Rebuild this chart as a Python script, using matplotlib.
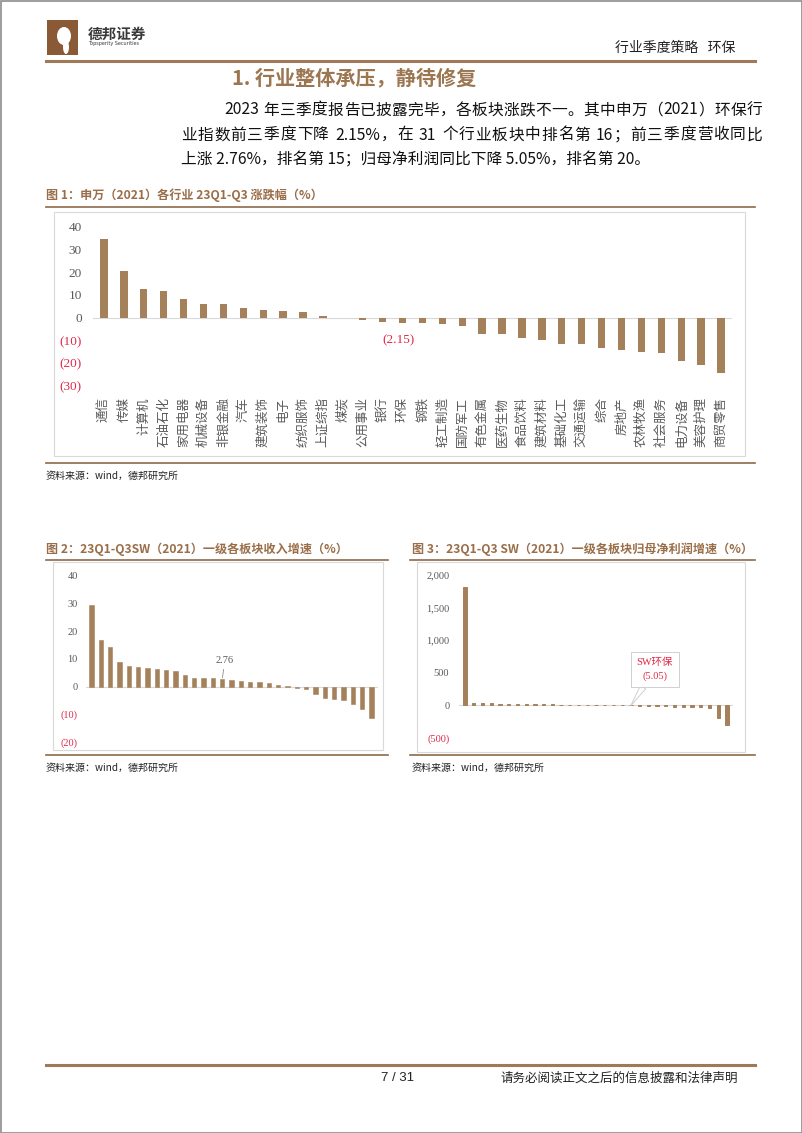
import re
import matplotlib
matplotlib.use("Agg")
import matplotlib.pyplot as plt
from matplotlib.lines import Line2D
from matplotlib.patches import Rectangle, Ellipse

plt.rcParams['font.family'] = ['Noto Sans CJK SC', 'DejaVu Sans']
SERIF = ['Liberation Serif', 'Noto Sans CJK SC']

# 图1 各行业涨跌幅（%）
industries = ["通信", "传媒", "计算机", "石油石化", "家用电器", "机械设备", "非银金融", "汽车",
              "建筑装饰", "电子", "纺织服饰", "上证综指", "煤炭", "公用事业", "银行", "环保",
              "钢铁", "轻工制造", "国防军工", "有色金属", "医药生物", "食品饮料", "建筑材料",
              "基础化工", "交通运输", "综合", "房地产", "农林牧渔", "社会服务", "电力设备",
              "美容护理", "商贸零售"]
change = [34.6, 20.5, 12.6, 11.7, 8.2, 6.2, 5.9, 4.2, 3.2, 2.9, 2.5, 0.7, 0.0, -1.2, -1.7,
          -2.15, -2.4, -2.6, -3.6, -7.0, -7.3, -8.9, -9.8, -11.4, -11.4, -13.2, -14.2,
          -14.9, -15.5, -18.9, -20.8, -24.5]
change_ticks = [-30, -20, -10, 0, 10, 20, 30, 40]

# 图2 收入增速（%），环保排名第15
revenue = [29.4, 16.7, 14.5, 8.9, 7.4, 7.1, 6.9, 6.3, 6.0, 5.8, 4.4, 3.1, 3.1, 3.1, 2.76,
           2.6, 2.1, 1.8, 1.6, 1.4, 0.8, 0.3, -0.4, -0.9, -2.6, -4.2, -4.5, -4.6, -6.3,
           -8.0, -11.4]
revenue_ticks = [-20, -10, 0, 10, 20, 30, 40]

# 图3 归母净利润增速（%），环保排名第20
profit = [1809, 40, 38, 32, 24, 21, 19, 17, 15, 13, 11, 9, 8, 6, 5, 3, 2, -1, -3, -5.05,
          -12, -15, -18, -20, -23, -26, -29, -32, -50, -190, -300]
profit_ticks = [-500, 0, 500, 1000, 1500, 2000]

W, H = 802, 1133
BAR = "#A4815A"
BROWN = "#A07A58"
CAP = "#9A6E48"
RED = "#E0294A"
GRAY = "#595959"

fig = plt.figure(figsize=(W / 100, H / 100), dpi=100)
renderer = fig.canvas.get_renderer()


def fx(x):
    return x / W


def fy(y):
    return 1 - y / H


def hline(x0, x1, y, color=BROWN, lw=1.8):
    fig.add_artist(Line2D([fx(x0), fx(x1)], [fy(y), fy(y)], transform=fig.transFigure,
                          color=color, lw=lw))


def frame(x0, y0, x1, y1, color="#D9D9D9", lw=0.8):
    fig.add_artist(Rectangle((fx(x0), fy(y1)), fx(x1) - fx(x0), fy(y0) - fy(y1),
                             transform=fig.transFigure, fill=False, ec=color, lw=lw))


def axes_px(x0, y0, x1, y1):
    return fig.add_axes([fx(x0), fy(y1), (x1 - x0) / W, (y1 - y0) / H])


def text(x, y, s, **kw):
    return fig.text(fx(x), fy(y), s, **kw)


def justify(x0, x1, y, s, **kw):
    # 两端对齐：逐字排布，把剩余空间平均分到字间
    tokens = re.findall(r"[A-Za-z0-9.%]+|\s|.", s)
    widths = []
    for tk in tokens:
        if tk.isspace():
            widths.append(kw["fontsize"] * 100 / 72 * 0.28)
            continue
        t = text(0, 0, tk, **kw)
        widths.append(t.get_window_extent(renderer).width)
        t.remove()
    gap = (x1 - x0 - sum(widths)) / (len(tokens) - 1) if x1 else 0
    x = x0
    for tk, w in zip(tokens, widths):
        if not tk.isspace():
            text(x, y, tk, va="center", **kw)
        x += w + gap


def fmt(v):
    return f"({abs(v):,.0f})" if v < 0 else f"{v:,.0f}"


def style_axis(ax, ticks, size, pad):
    for s in ax.spines.values():
        s.set_visible(False)
    ax.axhline(0, color="#D9D9D9", lw=0.8, zorder=0)
    ax.set_yticks(ticks)
    ax.set_yticklabels([fmt(t) for t in ticks], family=SERIF, fontsize=size)
    for lab, t in zip(ax.get_yticklabels(), ticks):
        lab.set_color(RED if t < 0 else GRAY)
    ax.tick_params(axis="y", length=0, pad=pad)
    ax.set_facecolor("none")


# 页面边框
frame(0.5, 0.5, W - 0.5, H - 0.5, color="#8C8C8C", lw=1.2)

# 页眉
fig.add_artist(Rectangle((fx(47), fy(55)), fx(78) - fx(47), fy(20) - fy(55),
                         transform=fig.transFigure, fc="#8A5A36", ec="none"))
fig.add_artist(Ellipse((fx(64), fy(36)), 14 / W, 18 / H, transform=fig.transFigure,
                       fc="white", ec="none"))
fig.add_artist(Ellipse((fx(66), fy(47)), 6 / W, 14 / H, transform=fig.transFigure,
                       fc="white", ec="none"))
text(88, 34, "德邦证券", fontsize=10.5, weight="bold", color="#3A3A3A", va="center")
text(88, 43, "Topsperity Securities", fontsize=3.5, color="#3A3A3A", va="center",
     family="DejaVu Sans")
text(735, 48, "行业季度策略   环保", fontsize=10, color="#222222", ha="right", va="center")
hline(46, 755, 61, lw=2.2)

text(232, 78, "1. 行业整体承压，静待修复", fontsize=14.5, weight="bold", color="#9C7650",
     va="center")

para = ["2023 年三季度报告已披露完毕，各板块涨跌不一。其中申万（2021）环保行",
        "业指数前三季度下降 2.15%，在 31 个行业板块中排名第 16；前三季度营收同比",
        "上涨 2.76%，排名第 15；归母净利润同比下降 5.05%，排名第 20。"]
justify(224, 762, 110, para[0], fontsize=11.3, color="#111111")
justify(181, 762, 135, para[1], fontsize=11.3, color="#111111")
text(181, 160, para[2], fontsize=11.3, color="#111111", va="center")

# 图1
text(46, 195, "图 1：申万（2021）各行业 23Q1-Q3 涨跌幅（%）", fontsize=8.7, weight="bold",
     color=CAP, va="center")
hline(46, 755, 207, color="#8E6A4C", lw=1.2)
frame(54, 212, 745, 456)
ax1 = axes_px(93, 226.7, 732, 386)
x1 = list(range(len(industries)))
ax1.bar(x1, change, width=0.37, color=BAR)
ax1.set_xlim(-0.55, len(industries) - 0.45)
ax1.set_ylim(-30, 40)
style_axis(ax1, change_ticks, 9.5, 8)
ax1.set_xticks(x1)
ax1.set_xticklabels(industries, rotation=90, fontsize=9, color=GRAY)
ax1.tick_params(axis="x", length=0, pad=8)
env = industries.index("环保")
ax1.annotate(f"({abs(change[env]):.2f})", xy=(env, change[env]), xytext=(-3, -13),
             textcoords="offset points", ha="center", va="center", color=RED,
             fontsize=9.5, family=SERIF)
hline(46, 755, 463, color="#8E6A4C", lw=1.2)
text(46, 476, "资料来源：wind，德邦研究所", fontsize=7.2, color="#222222", va="center")

# 图2
text(46, 549, "图 2：23Q1-Q3SW（2021）一级各板块收入增速（%）", fontsize=8.7,
     weight="bold", color=CAP, va="center")
hline(46, 388, 560, color="#8E6A4C", lw=1.2)
frame(53, 562, 383, 750)
ax2 = axes_px(86, 575.7, 378, 742.3)
x2 = list(range(len(revenue)))
ax2.bar(x2, revenue, width=0.45, color=BAR, ec=BAR, lw=0.4)
ax2.set_xlim(-0.6, len(revenue) - 0.3)
ax2.set_ylim(-20, 40)
style_axis(ax2, revenue_ticks, 7.5, 6)
ax2.set_xticks([])
rank_rev = revenue.index(2.76)
ax2.annotate(f"{revenue[rank_rev]:.2f}", xy=(rank_rev, revenue[rank_rev]), xytext=(2, 10),
             textcoords="offset points", ha="center", va="bottom", color=GRAY,
             fontsize=7.5, family=SERIF,
             arrowprops=dict(arrowstyle="-", color="#8C8C8C", lw=0.6, shrinkA=1, shrinkB=1))
hline(46, 388, 755, color="#8E6A4C", lw=1.2)
text(46, 768, "资料来源：wind，德邦研究所", fontsize=7.2, color="#222222", va="center")

# 图3
text(412, 549, "图 3：23Q1-Q3 SW（2021）一级各板块归母净利润增速（%）", fontsize=8.7,
     weight="bold", color=CAP, va="center")
hline(410, 755, 560, color="#8E6A4C", lw=1.2)
frame(417, 562, 745, 752)
ax3 = axes_px(459, 575, 733, 737.7)
x3 = list(range(len(profit)))
ax3.bar(x3, profit, width=0.38, color=BAR, ec=BAR, lw=0.7)
ax3.set_xlim(-0.7, len(profit) - 0.3)
ax3.set_ylim(-500, 2000)
style_axis(ax3, profit_ticks, 7.5, 7)
ax3.set_xticks([])
rank_pro = profit.index(-5.05)
ax3.annotate(f"SW环保\n({abs(profit[rank_pro]):.2f})", xy=(rank_pro, profit[rank_pro]),
             xytext=(0.715, 0.42), textcoords="axes fraction", ha="center", va="center",
             color=RED, fontsize=7.5, family=SERIF, linespacing=1.6,
             bbox=dict(boxstyle="square,pad=0.55", fc="white", ec="#D0D0D0", lw=0.7),
             arrowprops=dict(arrowstyle="wedge,tail_width=0.6", fc="white", ec="#D0D0D0",
                             lw=0.7, shrinkA=0, shrinkB=0))
hline(410, 755, 755, color="#8E6A4C", lw=1.2)
text(412, 768, "资料来源：wind，德邦研究所", fontsize=7.2, color="#222222", va="center")

# 页脚
hline(46, 755, 1065, lw=2.2)
text(398, 1078, "7 / 31", fontsize=9.5, color="#222222", ha="center", va="center",
     family="Liberation Sans")
text(738, 1078, "请务必阅读正文之后的信息披露和法律声明", fontsize=9, color="#222222",
     ha="right", va="center")

fig.savefig("out.png", dpi=100)
